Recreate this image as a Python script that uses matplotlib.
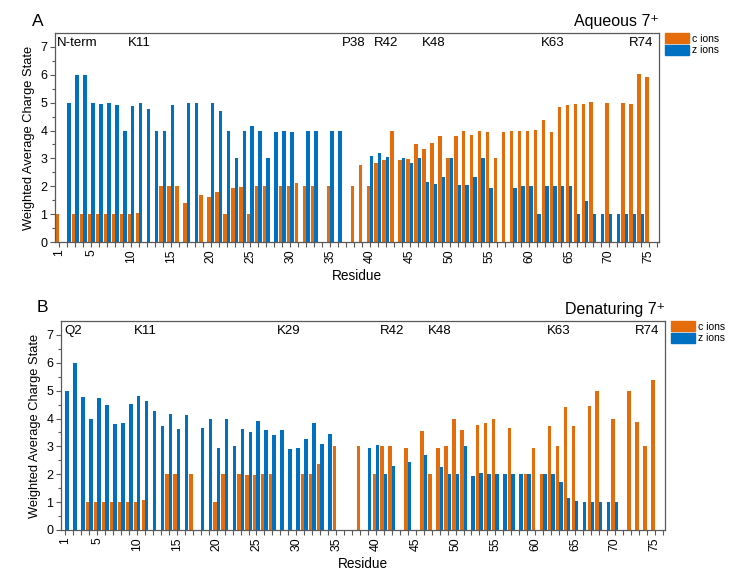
import numpy as np
from matplotlib import pyplot as plt
from matplotlib.patches import Patch

plt.rcParams["font.family"] = ["Liberation Sans", "DejaVu Sans"]

residues = np.arange(1, 76)

# panel A, aqueous 7+  (0 = no fragment observed)
aq_c = [1.0, 0, 1.0, 1.0, 1.0, 1.0, 1.0, 1.0, 1.0, 1.0,
        1.05, 0, 0, 2.0, 2.0, 2.0, 1.4, 0, 1.69, 1.62,
        1.8, 1.0, 1.95, 1.97, 1.0, 2.0, 2.0, 0, 2.0, 2.0,
        2.12, 2.0, 2.0, 0, 2.0, 0, 0, 2.0, 2.75, 2.0,
        2.84, 2.96, 4.0, 2.96, 2.99, 3.5, 3.32, 3.56, 3.82, 3.0,
        3.82, 4.0, 3.85, 3.98, 3.95, 3.0, 3.96, 4.0, 3.97, 3.97,
        4.02, 4.38, 3.95, 4.84, 4.93, 4.96, 4.96, 5.01, 0, 5.0,
        0, 5.0, 4.96, 6.02, 5.93]
aq_z = [0, 5.0, 6.0, 6.0, 5.0, 4.95, 5.0, 4.9, 4.0, 4.87,
        5.0, 4.78, 4.0, 3.97, 4.93, 0, 5.0, 5.0, 0, 5.0,
        4.69, 4.0, 3.0, 3.98, 4.15, 4.0, 3.0, 3.95, 4.0, 3.95,
        0, 4.0, 4.0, 0, 4.0, 4.0, 0, 0, 0, 3.1,
        3.18, 3.06, 0, 3.0, 2.84, 3.0, 2.15, 2.09, 2.34, 3.0,
        2.03, 2.03, 2.34, 3.0, 1.95, 0, 0, 1.95, 2.0, 2.0,
        1.0, 2.0, 2.0, 2.0, 2.0, 1.0, 1.47, 1.0, 1.0, 1.0,
        1.0, 1.0, 1.0, 1.0, 0]

# panel B, denaturing 7+
den_c = [0, 0, 0, 1.0, 1.0, 1.0, 1.0, 1.0, 1.0, 1.0,
         1.08, 0, 0, 2.0, 2.0, 0, 2.0, 0, 0, 1.0,
         2.0, 0, 2.0, 1.97, 1.97, 2.0, 2.0, 0, 0, 0,
         2.0, 2.0, 2.37, 0, 3.0, 0, 0, 3.0, 0, 2.0,
         3.0, 3.0, 0, 2.96, 0, 3.56, 2.0, 2.93, 3.0, 4.0,
         3.6, 0, 3.78, 3.84, 4.0, 0, 3.65, 0, 2.0, 2.96,
         2.0, 3.72, 3.0, 4.43, 3.72, 0, 4.46, 5.0, 0, 4.0,
         0, 5.0, 3.86, 3.0, 5.37]
den_z = [5.0, 6.0, 4.78, 4.0, 4.72, 4.5, 3.8, 3.85, 4.52, 4.8,
         4.63, 4.28, 3.75, 4.18, 3.63, 4.11, 0, 3.67, 4.0, 2.93,
         4.0, 3.0, 3.63, 3.53, 3.9, 3.6, 3.41, 3.59, 2.91, 2.93,
         3.25, 3.83, 3.1, 3.43, 0, 0, 0, 0, 2.93, 3.05,
         2.0, 2.28, 0, 2.43, 0, 2.7, 0, 2.27, 2.0, 2.0,
         3.0, 1.93, 2.03, 2.0, 2.0, 2.0, 2.0, 2.0, 2.0, 0,
         2.0, 2.0, 1.73, 1.14, 1.05, 1.0, 1.0, 1.0, 1.0, 1.0,
         0, 0, 0, 0, 0]

aq_sites = ["K11", "P38", "R42", "K48", "K63", "R74"]
aq_site_res = [11, 38, 42, 48, 63, 74]
den_sites = ["Q2", "K11", "K29", "R42", "K48", "K63", "R74"]
den_site_res = [2, 11, 29, 42, 48, 63, 74]

tick_labels = [1, 5, 10, 15, 20, 25, 30, 35, 40, 45, 50, 55, 60, 65, 70, 75]

C_COL = "#E46C0A"
Z_COL = "#0070C0"
EDGE = "#595959"


def draw_panel(ax, c_vals, z_vals, sites, site_res, title, first_label=None):
    c_vals = np.array(c_vals)
    z_vals = np.array(z_vals)
    w = 0.43
    mc = c_vals > 0
    mz = z_vals > 0
    ax.bar(residues[mc] - 0.215, c_vals[mc], width=w, color=C_COL, linewidth=0)
    ax.bar(residues[mz] + 0.215, z_vals[mz], width=w, color=Z_COL, linewidth=0)

    ax.set_xlim(0.45, 76.3)
    ax.set_ylim(0, 7.5)
    ax.set_xticks(tick_labels)
    ax.set_xticklabels([str(t) for t in tick_labels], rotation=90, fontsize=8.8)
    ax.set_xticks(np.arange(1, 77), minor=True)
    ax.set_yticks(np.arange(0, 8))
    ax.set_yticks(np.arange(0, 7.5, 0.5), minor=True)
    ax.tick_params(axis="y", labelsize=9)
    ax.tick_params(which="both", direction="out", color=EDGE, width=0.8)
    ax.tick_params(which="major", length=3.5, pad=2)
    ax.tick_params(axis="x", which="minor", length=3.5)
    ax.tick_params(axis="y", which="minor", length=2)
    for sp in ax.spines.values():
        sp.set_color(EDGE)
        sp.set_linewidth(0.9)

    ax.set_xlabel("Residue", fontsize=9.8, labelpad=4)
    ax.set_ylabel("Weighted Average Charge State", fontsize=9.3, labelpad=4)

    if first_label is not None:
        ax.text(0.65, 7.14, first_label, fontsize=9.5, ha="left", va="center")
    for name, r in zip(sites, site_res):
        ax.text(r, 7.14, name, fontsize=9.5, ha="center", va="center")

    ax.text(1.0, 1.035, title, transform=ax.transAxes, ha="right",
            va="baseline", fontsize=11.5)

    handles = [Patch(color=C_COL, label="c ions"), Patch(color=Z_COL, label="z ions")]
    ax.legend(handles=handles, loc="upper left", bbox_to_anchor=(1.01, 1.0),
              frameon=False, fontsize=7.5, handlelength=2.3, handleheight=1.1,
              labelspacing=0.1, handletextpad=0.25, borderpad=0, borderaxespad=0)


fig = plt.figure(figsize=(7.3, 5.71), dpi=100)
W, H = 730.0, 571.0
ax_a = fig.add_axes([55 / W, 1 - 242 / H, 604 / W, 209 / H])
ax_b = fig.add_axes([61 / W, 1 - 530 / H, 604 / W, 209 / H])

draw_panel(ax_a, aq_c, aq_z, aq_sites, aq_site_res, "Aqueous 7\u207a", first_label="N-term")
draw_panel(ax_b, den_c, den_z, den_sites[1:], den_site_res[1:], "Denaturing 7\u207a")
ax_b.text(den_site_res[0], 7.14, den_sites[0], fontsize=9.5, ha="center", va="center")

fig.text(32 / W, 1 - 26 / H, "A", fontsize=12.5, va="baseline")
fig.text(37 / W, 1 - 312 / H, "B", fontsize=12.5, va="baseline")

fig.savefig("out.png", dpi=100)
